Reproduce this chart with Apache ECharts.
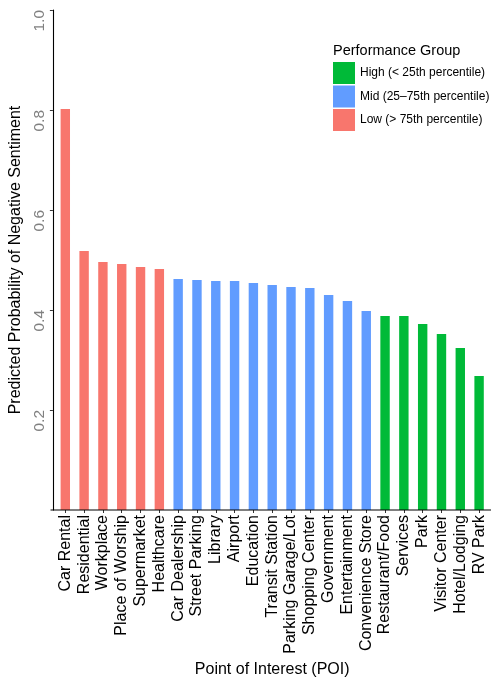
<!DOCTYPE html>
<html>
<head>
<meta charset="utf-8">
<script src="https://cdn.jsdelivr.net/npm/echarts@6/dist/echarts.min.js"></script>
<style>
html,body{margin:0;padding:0;background:#fff;}
#main{width:492px;height:683px;}
</style>
</head>
<body>
<div id="main"></div>
<script>
const categories = ['Car Rental','Residential','Workplace','Place of Worship','Supermarket','Healthcare',
  'Car Dealership','Street Parking','Library','Airport','Education','Transit Station','Parking Garage/Lot',
  'Shopping Center','Government','Entertainment','Convenience Store',
  'Restaurant/Food','Services','Park','Visitor Center','Hotel/Lodging','RV Park'];
const values = [0.802,0.518,0.496,0.492,0.486,0.482,
  0.462,0.460,0.458,0.458,0.454,0.450,0.446,0.444,0.430,0.418,0.398,
  0.388,0.388,0.372,0.352,0.324,0.268];
const groups = ['Low','Low','Low','Low','Low','Low',
  'Mid','Mid','Mid','Mid','Mid','Mid','Mid','Mid','Mid','Mid','Mid',
  'High','High','High','High','High','High'];
const groupKeys = ['High','Mid','Low'];
const groupLabels = ['High (< 25th percentile)','Mid (25\u201375th percentile)','Low (> 75th percentile)'];
const groupColors = ['#00BA38','#619CFF','#F8766D'];
const yTicks = [0, 0.2, 0.4, 0.6, 0.8, 1.0];

const FONT = 'Liberation Sans, Arial, Helvetica, sans-serif';
const chart = echarts.init(document.getElementById('main'), null, {renderer:'canvas'});

const series = groupKeys.map((g, k) => ({
  name: groupLabels[k],
  type: 'bar',
  stack: 'all',
  barWidth: '50%',
  itemStyle: {color: groupColors[k]},
  data: values.map((v, i) => groups[i] === g ? v : '-')
}));

chart.setOption({
  animation: false,
  backgroundColor: '#fff',
  textStyle: {fontFamily: FONT},
  title: {
    text: 'Performance Group',
    left: 333, top: 43, padding: 0,
    textStyle: {fontSize: 14.5, fontWeight: 'normal', color: '#000', fontFamily: FONT}
  },
  legend: {
    orient: 'vertical',
    left: 333, top: 62, padding: 0,
    itemWidth: 22, itemHeight: 22, itemGap: 1.5,
    icon: 'rect',
    selectedMode: false,
    data: groupLabels,
    textStyle: {fontSize: 12, color: '#000', fontFamily: FONT}
  },
  grid: {left: 53.85, right: 3.5, top: 10, bottom: 173, containLabel: false},
  xAxis: {
    type: 'category',
    data: categories,
    boundaryGap: true,
    name: 'Point of Interest (POI)',
    nameLocation: 'middle',
    nameGap: 150,
    nameTextStyle: {fontSize: 16, color: '#000', fontFamily: FONT},
    axisLine: {show: false},
    axisTick: {show: true, alignWithLabel: true, length: 3, lineStyle: {color: '#333', width: 1}},
    axisLabel: {rotate: 90, fontSize: 16, color: '#000', margin: 5, interval: 0, fontFamily: FONT}
  },
  yAxis: {
    type: 'value',
    min: yTicks[0], max: yTicks[yTicks.length - 1], interval: 0.2,
    offset: 3,
    name: 'Predicted Probability of Negative Sentiment',
    nameLocation: 'middle',
    nameGap: 27,
    nameTextStyle: {fontSize: 16, color: '#000', fontFamily: FONT},
    splitLine: {show: false},
    axisLine: {show: true, lineStyle: {color: '#000', width: 1.1}},
    axisTick: {show: true, length: 3, lineStyle: {color: '#333', width: 1}},
    axisLabel: {
      rotate: 90, fontSize: 15.5, color: '#808080', margin: 5, showMinLabel: false,
      align: 'right', verticalAlign: 'bottom',
      fontFamily: FONT,
      formatter: v => v.toFixed(1)
    }
  },
  graphic: [{
    type: 'line',
    shape: {x1: 50.5, y1: 510, x2: 491, y2: 510},
    style: {stroke: '#000', lineWidth: 1.1},
    z: 10
  }],
  series: series
});
</script>
</body>
</html>
